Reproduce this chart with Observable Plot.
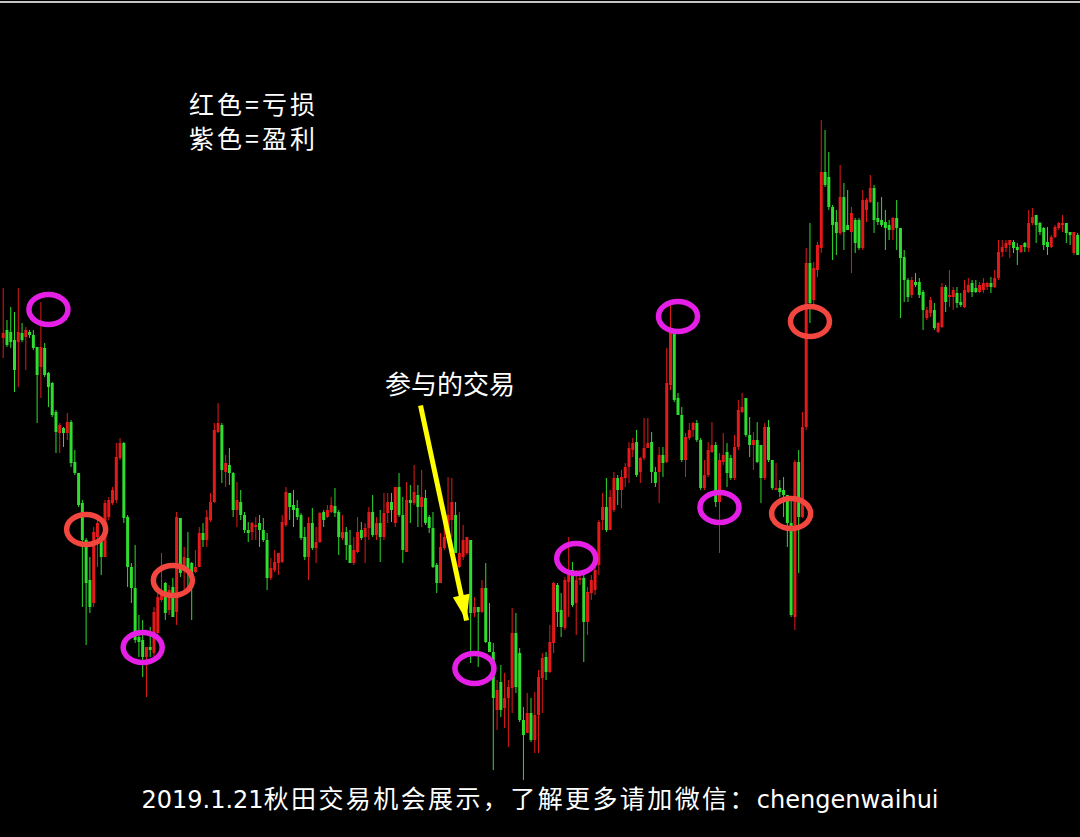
<!DOCTYPE html>
<html><head><meta charset="utf-8">
<script src="https://cdn.jsdelivr.net/npm/d3@7"></script>
<script src="https://cdn.jsdelivr.net/npm/@observablehq/plot@0.6"></script>
<style>
html,body{margin:0;padding:0;background:#000;}
#wrap{position:relative;width:1080px;height:837px;background:#000;overflow:hidden;}
#chart{position:absolute;left:0;top:0;}
#topline{position:absolute;left:0;top:1px;width:1080px;height:2px;background:#c4c4c4;}
#legend{position:absolute;left:189px;top:86px;color:#fff;font-family:"Noto Sans CJK SC";font-size:25px;line-height:34px;letter-spacing:3px;}
#caption{position:absolute;left:0;top:782px;width:1080px;height:30px;line-height:30px;text-align:center;color:#fff;font-family:"DejaVu Sans","Noto Sans CJK SC";font-size:24px;white-space:nowrap;}
#caption .cjk{font-family:"Noto Sans CJK SC";font-size:25px;letter-spacing:2.4px;}
</style></head>
<body><div id="wrap"><div id="chart"></div><div id="topline"></div>
<div id="legend">红色=亏损<br>紫色=盈利</div>
<div id="caption">2019.1.21<span class="cjk">秋田交易机会展示，了解更多请加微信：</span>chengenwaihui</div>
</div>
<script>
// price in points (arbitrary units)
const opens = [462,470,468,460,458,467,463,468,465,453,433,452,427,417,388,367,372,367,378,338,
327,297,260,220,197,263,260,243,283,297,300,342,357,283,233,212,163,160,143,153,
147,167,200,217,190,213,188,282,233,242,237,228,233,267,260,280,298,368,375,328,
335,327,290,298,285,270,268,273,277,270,260,222,230,237,238,275,307,295,292,285,
263,243,277,252,258,288,283,288,294,288,262,268,255,237,248,270,263,272,288,265,
277,263,287,298,277,313,285,248,300,297,305,293,302,283,272,235,217,252,263,280,
285,233,243,247,260,187,193,188,212,158,148,90,118,92,102,112,167,147,80,67,
87,60,85,122,143,128,157,215,190,172,218,230,197,220,222,178,207,210,235,280,
293,270,290,322,310,322,333,350,358,328,342,352,358,328,328,345,338,415,467,402,
385,340,362,370,377,360,312,325,348,355,298,338,348,342,322,353,388,402,365,355,
360,355,322,373,340,310,312,310,305,277,183,338,283,373,537,500,530,552,628,623,
593,578,567,603,575,568,580,580,552,590,598,612,582,580,578,575,570,582,572,543,
520,505,518,518,508,482,487,490,468,473,513,503,503,507,498,493,508,517,512,508,
510,513,517,513,522,548,552,555,558,553,548,557,552,577,585,577,572,558,553,563,
572,575,577,568,547,565];
const highs = [512,480,493,488,512,477,473,470,470,453,498,457,428,418,390,377,373,387,380,350,
327,300,262,243,273,280,263,300,303,313,357,362,358,285,237,255,185,180,153,173,
193,210,247,218,215,222,288,282,253,268,238,250,273,277,290,307,377,397,377,345,
352,328,318,310,288,278,278,283,285,282,267,242,250,247,285,313,307,310,300,287,
273,283,292,273,288,290,295,303,312,290,285,273,270,263,283,278,277,293,305,283,
290,307,307,307,313,327,303,318,315,335,315,330,310,285,288,237,267,285,323,322,
298,288,275,263,260,203,193,220,237,197,157,120,135,127,120,192,187,152,93,107,
102,108,130,147,148,175,218,217,207,223,263,238,230,225,227,213,225,235,280,307,
322,310,328,325,330,337,358,362,370,343,382,382,368,333,353,353,452,497,467,407,
393,367,377,378,380,362,340,358,378,358,347,367,357,345,365,400,407,402,383,368,
378,355,377,380,340,337,320,323,305,300,340,350,388,552,577,538,558,680,670,648,
595,590,635,617,610,593,582,582,610,602,625,615,598,603,590,580,583,600,572,550,
522,523,527,522,510,493,503,497,478,517,515,530,513,513,507,520,522,520,520,518,
522,518,523,530,560,560,560,560,560,557,555,558,590,592,585,578,573,573,565,575,
578,585,577,568,568,567];
const lows = [442,453,452,408,413,458,430,462,450,377,402,423,393,383,347,347,353,360,333,325,
293,193,155,187,193,233,225,243,280,295,297,340,277,213,197,157,143,123,103,143,
143,160,198,180,185,183,175,223,210,210,180,227,233,253,253,278,297,367,317,313,
315,283,273,280,267,258,260,260,253,258,210,220,228,225,237,273,280,273,280,260,
240,220,250,237,257,273,282,287,283,245,260,240,237,235,247,260,237,260,263,260,
238,260,277,278,273,283,237,248,277,295,273,273,275,267,232,207,217,250,260,263,
247,232,240,245,137,183,133,187,157,148,30,70,83,72,53,87,107,78,20,67,
58,47,47,87,120,127,147,173,163,170,183,193,165,215,138,165,200,205,225,270,
268,270,288,295,292,313,317,343,323,317,340,352,317,313,297,323,337,410,398,385,
338,323,360,363,358,310,310,323,347,293,247,335,313,320,320,350,387,363,343,330,
337,297,320,338,310,310,303,283,253,183,170,227,282,370,477,495,523,547,613,590,
540,545,565,550,570,527,547,550,550,578,597,567,575,573,550,560,560,550,482,498,
498,502,513,502,470,480,483,470,467,472,488,493,490,492,493,492,507,503,507,507,
507,510,507,512,520,543,548,542,547,535,547,548,548,575,557,565,550,545,552,562,
570,568,557,555,545,545];
const closes = [467,455,458,430,468,460,470,465,452,425,453,425,413,385,368,375,367,378,337,327,
295,260,217,193,268,277,243,297,300,310,343,357,282,233,212,160,158,143,153,150,
188,203,210,187,210,183,283,227,243,230,218,233,267,260,283,298,370,377,330,337,
327,290,300,285,270,267,277,275,270,260,222,232,238,247,278,308,293,290,283,262,
243,277,252,258,287,280,290,295,287,263,268,255,237,250,268,262,272,288,265,277,
263,287,298,290,313,285,250,300,297,308,293,303,277,272,233,217,253,263,285,298,
247,247,260,263,187,193,188,212,158,148,102,110,90,102,113,167,113,80,65,87,
60,85,123,142,128,158,217,188,173,220,225,195,220,222,178,208,220,230,278,293,
270,303,322,310,323,333,352,357,325,342,352,357,328,317,345,337,417,467,400,385,
340,363,370,377,360,312,325,350,355,298,340,345,327,322,353,390,393,365,355,360,
338,322,373,340,312,312,308,305,277,185,338,283,373,537,497,532,555,628,615,593,
575,567,603,568,570,587,557,552,600,600,612,580,578,575,572,570,582,572,542,520,
503,520,515,505,490,490,500,472,477,513,498,505,510,497,495,510,515,508,508,515,
517,517,513,522,548,553,557,560,552,550,555,553,577,583,575,568,555,553,563,573,
577,577,567,565,568,545];

// trade entries: candle index, price, result
const tradeIndex  = [12, 22, 37, 45, 125, 152, 179, 190, 209, 214];
const tradePrice  = [491, 271, 153, 220, 132, 242, 484, 293, 287, 479];
const tradeResult = ["盈利","亏损","盈利","亏损","盈利","盈利","盈利","盈利","亏损","亏损"];

// annotation: "participated trade" pointer
const noteLabel = "参与的交易";
const noteAt = {i: 118.5, price: 415};
const pointerFrom = {i: 110.7, price: 395};
const pointerTo = {i: 122.9, price: 180};

const RED = "#e41919", GREEN = "#2fdc2f";
const candles = opens.map((o, i) => ({i, open: o, high: highs[i], low: lows[i], close: closes[i]}));
const trades = tradeIndex.map((i, k) => ({i, price: tradePrice[k], result: tradeResult[k]}));

const ellipse = {
  draw(ctx, size) {
    const r = Math.sqrt(size / Math.PI), rx = r * 1.3, ry = r, k = 0.5523;
    ctx.moveTo(rx, 0);
    ctx.bezierCurveTo(rx, ry * k, rx * k, ry, 0, ry);
    ctx.bezierCurveTo(-rx * k, ry, -rx, ry * k, -rx, 0);
    ctx.bezierCurveTo(-rx, -ry * k, -rx * k, -ry, 0, -ry);
    ctx.bezierCurveTo(rx * k, -ry, rx, -ry * k, rx, 0);
    ctx.closePath();
  }
};
// filled arrow head pointing down, tip at the origin
const head = {
  draw(ctx, size) {
    const r = Math.sqrt(size / Math.PI);
    ctx.moveTo(0, 0);
    ctx.lineTo(-r * 0.5, -r * 1.5);
    ctx.lineTo(r * 0.5, -r * 1.5);
    ctx.closePath();
  }
};
const col = d => d.close >= d.open ? RED : GREEN;
const pointer = [{a: pointerFrom, b: pointerTo}];

const chart = Plot.plot({
  width: 1080, height: 782, margin: 0,
  x: {domain: [-0.716, 285.76], axis: null},
  y: {domain: [18, 800], axis: null},
  style: {background: "#000", overflow: "visible"},
  marks: [
    Plot.ruleX(candles, {x: "i", y1: "low", y2: "high", stroke: col, strokeWidth: 1}),
    Plot.ruleX(candles, {x: "i", y1: "open", y2: "close", stroke: col, strokeWidth: 3}),
    Plot.dot(trades, {x: "i", y: "price", r: 15, symbol: ellipse, fill: "none",
      stroke: d => d.result === "盈利" ? "#e61fe6" : "#f2463f", strokeWidth: 5.5}),
    Plot.link(pointer, {x1: d => d.a.i, y1: d => d.a.price, x2: d => d.b.i, y2: d => d.b.price,
      stroke: "#ffff00", strokeWidth: 5}),
    Plot.dot(pointer, {x: d => d.b.i, y: d => d.b.price, r: 17, symbol: head, fill: "#ffff00",
      stroke: "none", rotate: -12}),
    Plot.text([noteAt], {x: "i", y: "price", text: () => noteLabel, fill: "#fff", fontSize: 26,
      fontFamily: "Noto Sans CJK SC"})
  ]
});
document.getElementById("chart").appendChild(chart);
</script>
</body></html>
